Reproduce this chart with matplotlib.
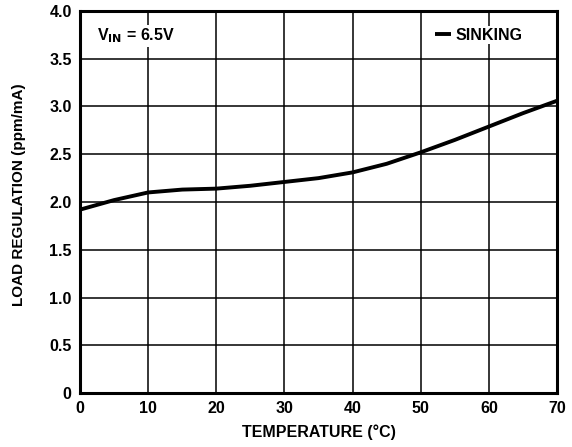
import matplotlib
matplotlib.use("Agg")
import matplotlib.pyplot as plt

plt.rcParams["font.family"] = ["Liberation Sans", "DejaVu Sans"]
plt.rcParams["font.weight"] = "bold"
plt.rcParams["mathtext.default"] = "bf"

# curve
temperature = [0, 5, 10, 15, 20, 25, 30, 35, 40, 45, 50, 55, 60, 65, 70]
load_reg = [1.92, 2.02, 2.10, 2.13, 2.14, 2.17, 2.21, 2.25, 2.31, 2.40, 2.52, 2.65, 2.79, 2.93, 3.06]

x_ticks = [0, 10, 20, 30, 40, 50, 60, 70]
y_ticks = [0, 0.5, 1.0, 1.5, 2.0, 2.5, 3.0, 3.5, 4.0]
y_labels = ["0", "0.5", "1.0", "1.5", "2.0", "2.5", "3.0", "3.5", "4.0"]

fs = 11.5

fig = plt.figure(figsize=(5.72, 4.47), dpi=100)
ax = fig.add_axes([0.1399, 0.1208, 0.8339, 0.8546])

ax.plot(temperature, load_reg, color="black", linewidth=2.8, label="SINKING",
        solid_capstyle="butt", zorder=3)

ax.set_xlim(0, 70)
ax.set_ylim(0, 4.0)
ax.set_xticks(x_ticks)
ax.set_yticks(y_ticks)
ax.set_yticklabels(y_labels)
ax.tick_params(length=0, labelsize=fs, pad=6)
ax.grid(True, color="black", linewidth=1.1)
ax.set_axisbelow(True)
for s in ax.spines.values():
    s.set_linewidth(2.2)

ax.set_xlabel("TEMPERATURE (°C)", fontsize=fs, fontweight="bold", labelpad=6)
ax.set_ylabel("LOAD REGULATION (ppm/mA)", fontsize=11, fontweight="bold")
ax.yaxis.set_label_coords(-0.113, 0.52)

ax.text(2.5, 3.74, r"V$_\mathbf{IN}$ = 6.5V", fontsize=fs, fontweight="bold",
        va="center", ha="left", zorder=4,
        bbox=dict(facecolor="white", edgecolor="none", pad=1))

leg = ax.legend(loc="upper right", bbox_to_anchor=(0.93, 0.96), frameon=True,
                fontsize=fs, handlelength=1.0, handletextpad=0.25,
                borderpad=0.1, borderaxespad=0, fancybox=False)
leg.get_frame().set_edgecolor("none")
leg.get_frame().set_facecolor("white")
leg.get_frame().set_alpha(1)

fig.savefig("out.png", dpi=100)
